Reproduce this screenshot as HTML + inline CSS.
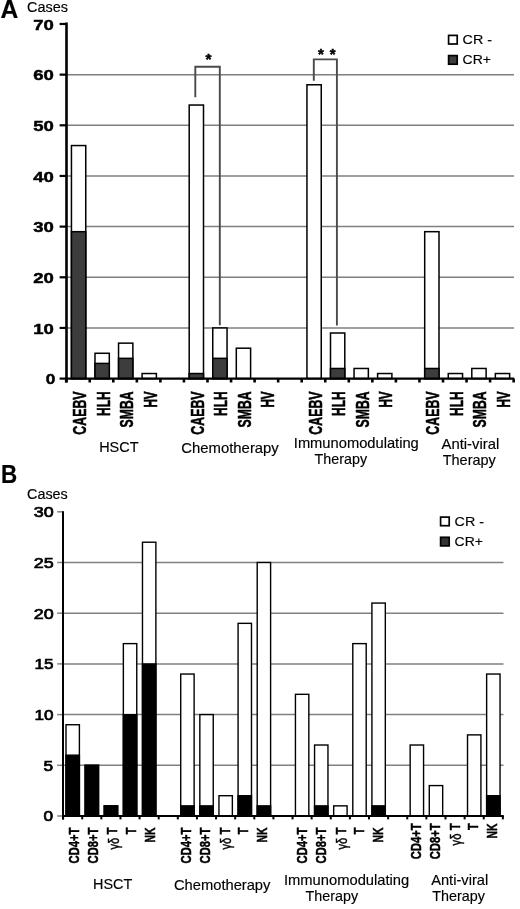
<!DOCTYPE html>
<html><head><meta charset="utf-8"><title>Figure</title>
<style>
html,body{margin:0;padding:0;background:#fff;}
body{width:520px;height:909px;overflow:hidden;}
svg{display:block;font-family:'Liberation Sans', Arial, sans-serif;}
</style></head>
<body>
<svg width="520" height="909" viewBox="0 0 520 909" fill="#000">
<rect width="520" height="909" fill="#fff"/>
<line x1="66.50" y1="327.94" x2="514.00" y2="327.94" stroke="#7f7f7f" stroke-width="1.5"/>
<line x1="66.50" y1="277.28" x2="514.00" y2="277.28" stroke="#7f7f7f" stroke-width="1.5"/>
<line x1="66.50" y1="226.62" x2="514.00" y2="226.62" stroke="#7f7f7f" stroke-width="1.5"/>
<line x1="66.50" y1="175.96" x2="514.00" y2="175.96" stroke="#7f7f7f" stroke-width="1.5"/>
<line x1="66.50" y1="125.30" x2="514.00" y2="125.30" stroke="#7f7f7f" stroke-width="1.5"/>
<line x1="66.50" y1="74.64" x2="514.00" y2="74.64" stroke="#7f7f7f" stroke-width="1.5"/>
<rect x="71.45" y="145.56" width="14.30" height="233.04" fill="#fff" stroke="#000" stroke-width="1.5"/>
<rect x="71.45" y="231.69" width="14.30" height="146.91" fill="#3d3d3d" stroke="#000" stroke-width="1.5"/>
<rect x="95.00" y="353.27" width="14.30" height="25.33" fill="#fff" stroke="#000" stroke-width="1.5"/>
<rect x="95.00" y="363.40" width="14.30" height="15.20" fill="#3d3d3d" stroke="#000" stroke-width="1.5"/>
<rect x="118.55" y="343.14" width="14.30" height="35.46" fill="#fff" stroke="#000" stroke-width="1.5"/>
<rect x="118.55" y="358.34" width="14.30" height="20.26" fill="#3d3d3d" stroke="#000" stroke-width="1.5"/>
<rect x="142.10" y="373.53" width="14.30" height="5.07" fill="#fff" stroke="#000" stroke-width="1.5"/>
<rect x="189.20" y="105.04" width="14.30" height="273.56" fill="#fff" stroke="#000" stroke-width="1.5"/>
<rect x="189.20" y="373.53" width="14.30" height="5.07" fill="#3d3d3d" stroke="#000" stroke-width="1.5"/>
<rect x="212.75" y="327.94" width="14.30" height="50.66" fill="#fff" stroke="#000" stroke-width="1.5"/>
<rect x="212.75" y="358.34" width="14.30" height="20.26" fill="#3d3d3d" stroke="#000" stroke-width="1.5"/>
<rect x="236.30" y="348.20" width="14.30" height="30.40" fill="#fff" stroke="#000" stroke-width="1.5"/>
<rect x="306.95" y="84.77" width="14.30" height="293.83" fill="#fff" stroke="#000" stroke-width="1.5"/>
<rect x="330.50" y="333.01" width="14.30" height="45.59" fill="#fff" stroke="#000" stroke-width="1.5"/>
<rect x="330.50" y="368.47" width="14.30" height="10.13" fill="#3d3d3d" stroke="#000" stroke-width="1.5"/>
<rect x="354.05" y="368.47" width="14.30" height="10.13" fill="#fff" stroke="#000" stroke-width="1.5"/>
<rect x="377.60" y="373.53" width="14.30" height="5.07" fill="#fff" stroke="#000" stroke-width="1.5"/>
<rect x="424.70" y="231.69" width="14.30" height="146.91" fill="#fff" stroke="#000" stroke-width="1.5"/>
<rect x="424.70" y="368.47" width="14.30" height="10.13" fill="#3d3d3d" stroke="#000" stroke-width="1.5"/>
<rect x="448.25" y="373.53" width="14.30" height="5.07" fill="#fff" stroke="#000" stroke-width="1.5"/>
<rect x="471.80" y="368.47" width="14.30" height="10.13" fill="#fff" stroke="#000" stroke-width="1.5"/>
<rect x="495.35" y="373.53" width="14.30" height="5.07" fill="#fff" stroke="#000" stroke-width="1.5"/>
<polyline points="195.3,97.3 195.3,66.8 219.8,66.8 219.8,325.2" fill="none" stroke="#4a4a4a" stroke-width="1.9"/>
<polyline points="313.8,80.8 313.8,59.4 336.9,59.4 336.9,325.4" fill="none" stroke="#4a4a4a" stroke-width="1.9"/>
<text x="208.50" y="64.00" font-size="15.5" font-weight="bold" text-anchor="middle" stroke="#000" stroke-width="0.5">*</text>
<text x="320.90" y="58.60" font-size="15" font-weight="bold" text-anchor="middle" stroke="#000" stroke-width="0.5">*</text>
<text x="332.70" y="58.60" font-size="15" font-weight="bold" text-anchor="middle" stroke="#000" stroke-width="0.5">*</text>
<line x1="66.50" y1="22.50" x2="66.50" y2="382.50" stroke="#000" stroke-width="2.6"/>
<line x1="65.20" y1="378.60" x2="514.20" y2="378.60" stroke="#000" stroke-width="2.2"/>
<line x1="66.20" y1="378.60" x2="66.20" y2="382.50" stroke="#000" stroke-width="2.6"/>
<line x1="89.75" y1="378.60" x2="89.75" y2="382.50" stroke="#000" stroke-width="2.6"/>
<line x1="113.30" y1="378.60" x2="113.30" y2="382.50" stroke="#000" stroke-width="2.6"/>
<line x1="136.85" y1="378.60" x2="136.85" y2="382.50" stroke="#000" stroke-width="2.6"/>
<line x1="160.40" y1="378.60" x2="160.40" y2="382.50" stroke="#000" stroke-width="2.6"/>
<line x1="183.95" y1="378.60" x2="183.95" y2="382.50" stroke="#000" stroke-width="2.6"/>
<line x1="207.50" y1="378.60" x2="207.50" y2="382.50" stroke="#000" stroke-width="2.6"/>
<line x1="231.05" y1="378.60" x2="231.05" y2="382.50" stroke="#000" stroke-width="2.6"/>
<line x1="254.60" y1="378.60" x2="254.60" y2="382.50" stroke="#000" stroke-width="2.6"/>
<line x1="278.15" y1="378.60" x2="278.15" y2="382.50" stroke="#000" stroke-width="2.6"/>
<line x1="301.70" y1="378.60" x2="301.70" y2="382.50" stroke="#000" stroke-width="2.6"/>
<line x1="325.25" y1="378.60" x2="325.25" y2="382.50" stroke="#000" stroke-width="2.6"/>
<line x1="348.80" y1="378.60" x2="348.80" y2="382.50" stroke="#000" stroke-width="2.6"/>
<line x1="372.35" y1="378.60" x2="372.35" y2="382.50" stroke="#000" stroke-width="2.6"/>
<line x1="395.90" y1="378.60" x2="395.90" y2="382.50" stroke="#000" stroke-width="2.6"/>
<line x1="419.45" y1="378.60" x2="419.45" y2="382.50" stroke="#000" stroke-width="2.6"/>
<line x1="443.00" y1="378.60" x2="443.00" y2="382.50" stroke="#000" stroke-width="2.6"/>
<line x1="466.55" y1="378.60" x2="466.55" y2="382.50" stroke="#000" stroke-width="2.6"/>
<line x1="490.10" y1="378.60" x2="490.10" y2="382.50" stroke="#000" stroke-width="2.6"/>
<line x1="513.65" y1="378.60" x2="513.65" y2="382.50" stroke="#000" stroke-width="2.6"/>
<line x1="59.60" y1="378.60" x2="66.50" y2="378.60" stroke="#000" stroke-width="2.2"/>
<line x1="59.60" y1="327.94" x2="66.50" y2="327.94" stroke="#000" stroke-width="2.2"/>
<line x1="59.60" y1="277.28" x2="66.50" y2="277.28" stroke="#000" stroke-width="2.2"/>
<line x1="59.60" y1="226.62" x2="66.50" y2="226.62" stroke="#000" stroke-width="2.2"/>
<line x1="59.60" y1="175.96" x2="66.50" y2="175.96" stroke="#000" stroke-width="2.2"/>
<line x1="59.60" y1="125.30" x2="66.50" y2="125.30" stroke="#000" stroke-width="2.2"/>
<line x1="59.60" y1="74.64" x2="66.50" y2="74.64" stroke="#000" stroke-width="2.2"/>
<line x1="59.60" y1="23.98" x2="66.50" y2="23.98" stroke="#000" stroke-width="2.2"/>
<text x="55.40" y="384.40" font-size="13.8" font-weight="bold" text-anchor="end" textLength="9.6" lengthAdjust="spacingAndGlyphs" stroke="#000" stroke-width="0.45">0</text>
<text x="53.90" y="333.74" font-size="13.8" font-weight="bold" text-anchor="end" textLength="20.6" lengthAdjust="spacingAndGlyphs" stroke="#000" stroke-width="0.45">10</text>
<text x="53.90" y="283.08" font-size="13.8" font-weight="bold" text-anchor="end" textLength="20.6" lengthAdjust="spacingAndGlyphs" stroke="#000" stroke-width="0.45">20</text>
<text x="53.90" y="232.42" font-size="13.8" font-weight="bold" text-anchor="end" textLength="20.6" lengthAdjust="spacingAndGlyphs" stroke="#000" stroke-width="0.45">30</text>
<text x="53.90" y="181.76" font-size="13.8" font-weight="bold" text-anchor="end" textLength="20.6" lengthAdjust="spacingAndGlyphs" stroke="#000" stroke-width="0.45">40</text>
<text x="53.90" y="131.10" font-size="13.8" font-weight="bold" text-anchor="end" textLength="20.6" lengthAdjust="spacingAndGlyphs" stroke="#000" stroke-width="0.45">50</text>
<text x="53.90" y="80.44" font-size="13.8" font-weight="bold" text-anchor="end" textLength="20.6" lengthAdjust="spacingAndGlyphs" stroke="#000" stroke-width="0.45">60</text>
<text x="53.90" y="29.78" font-size="13.8" font-weight="bold" text-anchor="end" textLength="20.6" lengthAdjust="spacingAndGlyphs" stroke="#000" stroke-width="0.45">70</text>
<text x="0.40" y="17.80" font-size="25.5" font-weight="bold" text-anchor="start" textLength="17.8" lengthAdjust="spacingAndGlyphs" stroke="#000" stroke-width="0.2">A</text>
<text x="27.00" y="11.50" font-size="13.8" font-weight="normal" text-anchor="start" textLength="40.9" lengthAdjust="spacingAndGlyphs" stroke="#000" stroke-width="0.15">Cases</text>
<rect x="448.60" y="35.40" width="8.60" height="8.60" fill="#fff" stroke="#000" stroke-width="1.7"/>
<rect x="448.60" y="55.60" width="8.60" height="8.60" fill="#3d3d3d" stroke="#000" stroke-width="1.7"/>
<text x="462.60" y="44.10" font-size="13.0" font-weight="normal" text-anchor="start" textLength="29.4" lengthAdjust="spacingAndGlyphs" stroke="#000" stroke-width="0.15">CR -</text>
<text x="462.60" y="63.80" font-size="13.0" font-weight="normal" text-anchor="start" textLength="28.3" lengthAdjust="spacingAndGlyphs" stroke="#000" stroke-width="0.15">CR+</text>
<text transform="translate(86.00,391.40) rotate(-90)" x="0" y="0" font-size="18.5" font-weight="bold" text-anchor="end" textLength="43.3" lengthAdjust="spacingAndGlyphs" stroke="#000" stroke-width="0.5">CAEBV</text>
<text transform="translate(109.55,391.40) rotate(-90)" x="0" y="0" font-size="18.5" font-weight="bold" text-anchor="end" textLength="24.5" lengthAdjust="spacingAndGlyphs" stroke="#000" stroke-width="0.5">HLH</text>
<text transform="translate(133.10,391.40) rotate(-90)" x="0" y="0" font-size="18.5" font-weight="bold" text-anchor="end" textLength="36.0" lengthAdjust="spacingAndGlyphs" stroke="#000" stroke-width="0.5">SMBA</text>
<text transform="translate(156.65,391.40) rotate(-90)" x="0" y="0" font-size="18.5" font-weight="bold" text-anchor="end" textLength="16.2" lengthAdjust="spacingAndGlyphs" stroke="#000" stroke-width="0.5">HV</text>
<text transform="translate(203.75,391.40) rotate(-90)" x="0" y="0" font-size="18.5" font-weight="bold" text-anchor="end" textLength="43.3" lengthAdjust="spacingAndGlyphs" stroke="#000" stroke-width="0.5">CAEBV</text>
<text transform="translate(227.30,391.40) rotate(-90)" x="0" y="0" font-size="18.5" font-weight="bold" text-anchor="end" textLength="24.5" lengthAdjust="spacingAndGlyphs" stroke="#000" stroke-width="0.5">HLH</text>
<text transform="translate(250.85,391.40) rotate(-90)" x="0" y="0" font-size="18.5" font-weight="bold" text-anchor="end" textLength="36.0" lengthAdjust="spacingAndGlyphs" stroke="#000" stroke-width="0.5">SMBA</text>
<text transform="translate(274.40,391.40) rotate(-90)" x="0" y="0" font-size="18.5" font-weight="bold" text-anchor="end" textLength="16.2" lengthAdjust="spacingAndGlyphs" stroke="#000" stroke-width="0.5">HV</text>
<text transform="translate(321.50,391.40) rotate(-90)" x="0" y="0" font-size="18.5" font-weight="bold" text-anchor="end" textLength="43.3" lengthAdjust="spacingAndGlyphs" stroke="#000" stroke-width="0.5">CAEBV</text>
<text transform="translate(345.05,391.40) rotate(-90)" x="0" y="0" font-size="18.5" font-weight="bold" text-anchor="end" textLength="24.5" lengthAdjust="spacingAndGlyphs" stroke="#000" stroke-width="0.5">HLH</text>
<text transform="translate(368.60,391.40) rotate(-90)" x="0" y="0" font-size="18.5" font-weight="bold" text-anchor="end" textLength="36.0" lengthAdjust="spacingAndGlyphs" stroke="#000" stroke-width="0.5">SMBA</text>
<text transform="translate(392.15,391.40) rotate(-90)" x="0" y="0" font-size="18.5" font-weight="bold" text-anchor="end" textLength="16.2" lengthAdjust="spacingAndGlyphs" stroke="#000" stroke-width="0.5">HV</text>
<text transform="translate(439.25,391.40) rotate(-90)" x="0" y="0" font-size="18.5" font-weight="bold" text-anchor="end" textLength="43.3" lengthAdjust="spacingAndGlyphs" stroke="#000" stroke-width="0.5">CAEBV</text>
<text transform="translate(462.80,391.40) rotate(-90)" x="0" y="0" font-size="18.5" font-weight="bold" text-anchor="end" textLength="24.5" lengthAdjust="spacingAndGlyphs" stroke="#000" stroke-width="0.5">HLH</text>
<text transform="translate(486.35,391.40) rotate(-90)" x="0" y="0" font-size="18.5" font-weight="bold" text-anchor="end" textLength="36.0" lengthAdjust="spacingAndGlyphs" stroke="#000" stroke-width="0.5">SMBA</text>
<text transform="translate(509.90,391.40) rotate(-90)" x="0" y="0" font-size="18.5" font-weight="bold" text-anchor="end" textLength="16.2" lengthAdjust="spacingAndGlyphs" stroke="#000" stroke-width="0.5">HV</text>
<text x="99.20" y="452.40" font-size="14.2" font-weight="normal" text-anchor="start" textLength="39.3" lengthAdjust="spacingAndGlyphs" stroke="#000" stroke-width="0.15">HSCT</text>
<text x="181.30" y="453.00" font-size="14.2" font-weight="normal" text-anchor="start" textLength="97.5" lengthAdjust="spacingAndGlyphs" stroke="#000" stroke-width="0.15">Chemotherapy</text>
<text x="293.80" y="448.30" font-size="14.2" font-weight="normal" text-anchor="start" textLength="125.0" lengthAdjust="spacingAndGlyphs" stroke="#000" stroke-width="0.15">Immunomodulating</text>
<text x="314.60" y="464.40" font-size="14.2" font-weight="normal" text-anchor="start" textLength="52.5" lengthAdjust="spacingAndGlyphs" stroke="#000" stroke-width="0.15">Therapy</text>
<text x="441.50" y="449.20" font-size="14.2" font-weight="normal" text-anchor="start" textLength="57.7" lengthAdjust="spacingAndGlyphs" stroke="#000" stroke-width="0.15">Anti-viral</text>
<text x="442.70" y="464.80" font-size="14.2" font-weight="normal" text-anchor="start" textLength="53.1" lengthAdjust="spacingAndGlyphs" stroke="#000" stroke-width="0.15">Therapy</text>
<line x1="63.00" y1="765.30" x2="503.50" y2="765.30" stroke="#808080" stroke-width="1.5"/>
<line x1="63.00" y1="714.60" x2="503.50" y2="714.60" stroke="#808080" stroke-width="1.5"/>
<line x1="63.00" y1="663.90" x2="503.50" y2="663.90" stroke="#808080" stroke-width="1.5"/>
<line x1="63.00" y1="613.20" x2="503.50" y2="613.20" stroke="#808080" stroke-width="1.5"/>
<line x1="63.00" y1="562.50" x2="503.50" y2="562.50" stroke="#808080" stroke-width="1.5"/>
<line x1="57.20" y1="816.00" x2="63.00" y2="816.00" stroke="#808080" stroke-width="1.5"/>
<line x1="57.20" y1="765.30" x2="63.00" y2="765.30" stroke="#808080" stroke-width="1.5"/>
<line x1="57.20" y1="714.60" x2="63.00" y2="714.60" stroke="#808080" stroke-width="1.5"/>
<line x1="57.20" y1="663.90" x2="63.00" y2="663.90" stroke="#808080" stroke-width="1.5"/>
<line x1="57.20" y1="613.20" x2="63.00" y2="613.20" stroke="#808080" stroke-width="1.5"/>
<line x1="57.20" y1="562.50" x2="63.00" y2="562.50" stroke="#808080" stroke-width="1.5"/>
<line x1="57.20" y1="511.80" x2="63.00" y2="511.80" stroke="#808080" stroke-width="1.5"/>
<rect x="66.00" y="724.74" width="13.40" height="91.26" fill="#fff" stroke="#000" stroke-width="1.4"/>
<rect x="66.00" y="755.16" width="13.40" height="60.84" fill="#000" stroke="#000" stroke-width="1.4"/>
<rect x="85.12" y="765.30" width="13.40" height="50.70" fill="#fff" stroke="#000" stroke-width="1.4"/>
<rect x="85.12" y="765.30" width="13.40" height="50.70" fill="#000" stroke="#000" stroke-width="1.4"/>
<rect x="104.24" y="805.86" width="13.40" height="10.14" fill="#fff" stroke="#000" stroke-width="1.4"/>
<rect x="104.24" y="805.86" width="13.40" height="10.14" fill="#000" stroke="#000" stroke-width="1.4"/>
<rect x="123.36" y="643.62" width="13.40" height="172.38" fill="#fff" stroke="#000" stroke-width="1.4"/>
<rect x="123.36" y="714.60" width="13.40" height="101.40" fill="#000" stroke="#000" stroke-width="1.4"/>
<rect x="142.48" y="542.22" width="13.40" height="273.78" fill="#fff" stroke="#000" stroke-width="1.4"/>
<rect x="142.48" y="663.90" width="13.40" height="152.10" fill="#000" stroke="#000" stroke-width="1.4"/>
<rect x="180.72" y="674.04" width="13.40" height="141.96" fill="#fff" stroke="#000" stroke-width="1.4"/>
<rect x="180.72" y="805.86" width="13.40" height="10.14" fill="#000" stroke="#000" stroke-width="1.4"/>
<rect x="199.84" y="714.60" width="13.40" height="101.40" fill="#fff" stroke="#000" stroke-width="1.4"/>
<rect x="199.84" y="805.86" width="13.40" height="10.14" fill="#000" stroke="#000" stroke-width="1.4"/>
<rect x="218.96" y="795.72" width="13.40" height="20.28" fill="#fff" stroke="#000" stroke-width="1.4"/>
<rect x="238.08" y="623.34" width="13.40" height="192.66" fill="#fff" stroke="#000" stroke-width="1.4"/>
<rect x="238.08" y="795.72" width="13.40" height="20.28" fill="#000" stroke="#000" stroke-width="1.4"/>
<rect x="257.20" y="562.50" width="13.40" height="253.50" fill="#fff" stroke="#000" stroke-width="1.4"/>
<rect x="257.20" y="805.86" width="13.40" height="10.14" fill="#000" stroke="#000" stroke-width="1.4"/>
<rect x="295.44" y="694.32" width="13.40" height="121.68" fill="#fff" stroke="#000" stroke-width="1.4"/>
<rect x="314.56" y="745.02" width="13.40" height="70.98" fill="#fff" stroke="#000" stroke-width="1.4"/>
<rect x="314.56" y="805.86" width="13.40" height="10.14" fill="#000" stroke="#000" stroke-width="1.4"/>
<rect x="333.68" y="805.86" width="13.40" height="10.14" fill="#fff" stroke="#000" stroke-width="1.4"/>
<rect x="352.80" y="643.62" width="13.40" height="172.38" fill="#fff" stroke="#000" stroke-width="1.4"/>
<rect x="371.92" y="603.06" width="13.40" height="212.94" fill="#fff" stroke="#000" stroke-width="1.4"/>
<rect x="371.92" y="805.86" width="13.40" height="10.14" fill="#000" stroke="#000" stroke-width="1.4"/>
<rect x="410.16" y="745.02" width="13.40" height="70.98" fill="#fff" stroke="#000" stroke-width="1.4"/>
<rect x="429.28" y="785.58" width="13.40" height="30.42" fill="#fff" stroke="#000" stroke-width="1.4"/>
<rect x="467.52" y="734.88" width="13.40" height="81.12" fill="#fff" stroke="#000" stroke-width="1.4"/>
<rect x="486.64" y="674.04" width="13.40" height="141.96" fill="#fff" stroke="#000" stroke-width="1.4"/>
<rect x="486.64" y="795.72" width="13.40" height="20.28" fill="#000" stroke="#000" stroke-width="1.4"/>
<line x1="63.00" y1="511.30" x2="63.00" y2="819.40" stroke="#000" stroke-width="2.0"/>
<line x1="62.00" y1="816.00" x2="503.80" y2="816.00" stroke="#000" stroke-width="2.0"/>
<line x1="63.10" y1="816.00" x2="63.10" y2="819.40" stroke="#000" stroke-width="2.0"/>
<line x1="82.22" y1="816.00" x2="82.22" y2="819.40" stroke="#000" stroke-width="2.0"/>
<line x1="101.34" y1="816.00" x2="101.34" y2="819.40" stroke="#000" stroke-width="2.0"/>
<line x1="120.46" y1="816.00" x2="120.46" y2="819.40" stroke="#000" stroke-width="2.0"/>
<line x1="139.58" y1="816.00" x2="139.58" y2="819.40" stroke="#000" stroke-width="2.0"/>
<line x1="158.70" y1="816.00" x2="158.70" y2="819.40" stroke="#000" stroke-width="2.0"/>
<line x1="177.82" y1="816.00" x2="177.82" y2="819.40" stroke="#000" stroke-width="2.0"/>
<line x1="196.94" y1="816.00" x2="196.94" y2="819.40" stroke="#000" stroke-width="2.0"/>
<line x1="216.06" y1="816.00" x2="216.06" y2="819.40" stroke="#000" stroke-width="2.0"/>
<line x1="235.18" y1="816.00" x2="235.18" y2="819.40" stroke="#000" stroke-width="2.0"/>
<line x1="254.30" y1="816.00" x2="254.30" y2="819.40" stroke="#000" stroke-width="2.0"/>
<line x1="273.42" y1="816.00" x2="273.42" y2="819.40" stroke="#000" stroke-width="2.0"/>
<line x1="292.54" y1="816.00" x2="292.54" y2="819.40" stroke="#000" stroke-width="2.0"/>
<line x1="311.66" y1="816.00" x2="311.66" y2="819.40" stroke="#000" stroke-width="2.0"/>
<line x1="330.78" y1="816.00" x2="330.78" y2="819.40" stroke="#000" stroke-width="2.0"/>
<line x1="349.90" y1="816.00" x2="349.90" y2="819.40" stroke="#000" stroke-width="2.0"/>
<line x1="369.02" y1="816.00" x2="369.02" y2="819.40" stroke="#000" stroke-width="2.0"/>
<line x1="388.14" y1="816.00" x2="388.14" y2="819.40" stroke="#000" stroke-width="2.0"/>
<line x1="407.26" y1="816.00" x2="407.26" y2="819.40" stroke="#000" stroke-width="2.0"/>
<line x1="426.38" y1="816.00" x2="426.38" y2="819.40" stroke="#000" stroke-width="2.0"/>
<line x1="445.50" y1="816.00" x2="445.50" y2="819.40" stroke="#000" stroke-width="2.0"/>
<line x1="464.62" y1="816.00" x2="464.62" y2="819.40" stroke="#000" stroke-width="2.0"/>
<line x1="483.74" y1="816.00" x2="483.74" y2="819.40" stroke="#000" stroke-width="2.0"/>
<line x1="502.86" y1="816.00" x2="502.86" y2="819.40" stroke="#000" stroke-width="2.0"/>
<text x="53.20" y="821.40" font-size="14.5" font-weight="normal" text-anchor="end" textLength="9.6" lengthAdjust="spacingAndGlyphs" stroke="#000" stroke-width="0.7">0</text>
<text x="53.20" y="770.70" font-size="14.5" font-weight="normal" text-anchor="end" textLength="9.6" lengthAdjust="spacingAndGlyphs" stroke="#000" stroke-width="0.7">5</text>
<text x="53.60" y="720.00" font-size="14.5" font-weight="normal" text-anchor="end" textLength="19.0" lengthAdjust="spacingAndGlyphs" stroke="#000" stroke-width="0.7">10</text>
<text x="53.60" y="669.30" font-size="14.5" font-weight="normal" text-anchor="end" textLength="19.0" lengthAdjust="spacingAndGlyphs" stroke="#000" stroke-width="0.7">15</text>
<text x="53.60" y="618.60" font-size="14.5" font-weight="normal" text-anchor="end" textLength="19.9" lengthAdjust="spacingAndGlyphs" stroke="#000" stroke-width="0.7">20</text>
<text x="53.60" y="567.90" font-size="14.5" font-weight="normal" text-anchor="end" textLength="19.9" lengthAdjust="spacingAndGlyphs" stroke="#000" stroke-width="0.7">25</text>
<text x="53.60" y="517.20" font-size="14.5" font-weight="normal" text-anchor="end" textLength="19.9" lengthAdjust="spacingAndGlyphs" stroke="#000" stroke-width="0.7">30</text>
<text x="1.00" y="482.80" font-size="25.0" font-weight="bold" text-anchor="start" textLength="16.2" lengthAdjust="spacingAndGlyphs" stroke="#000" stroke-width="0.2">B</text>
<text x="27.00" y="498.60" font-size="13.8" font-weight="normal" text-anchor="start" textLength="40.8" lengthAdjust="spacingAndGlyphs" stroke="#000" stroke-width="0.15">Cases</text>
<rect x="440.60" y="517.10" width="8.60" height="8.60" fill="#fff" stroke="#000" stroke-width="1.7"/>
<rect x="440.60" y="537.30" width="8.60" height="8.60" fill="#333" stroke="#000" stroke-width="1.7"/>
<text x="454.60" y="525.60" font-size="13.0" font-weight="normal" text-anchor="start" textLength="29.4" lengthAdjust="spacingAndGlyphs" stroke="#000" stroke-width="0.15">CR -</text>
<text x="454.60" y="545.50" font-size="13.0" font-weight="normal" text-anchor="start" textLength="28.3" lengthAdjust="spacingAndGlyphs" stroke="#000" stroke-width="0.15">CR+</text>
<text transform="translate(78.50,827.60) rotate(-90)" x="0" y="0" font-size="15.5" font-weight="bold" text-anchor="end" textLength="35.8" lengthAdjust="spacingAndGlyphs" stroke="#000" stroke-width="0.5">CD4+T</text>
<text transform="translate(97.62,827.60) rotate(-90)" x="0" y="0" font-size="15.5" font-weight="bold" text-anchor="end" textLength="35.8" lengthAdjust="spacingAndGlyphs" stroke="#000" stroke-width="0.5">CD8+T</text>
<text transform="translate(117.44,827.6) rotate(-90)" font-size="15.5" font-weight="bold" text-anchor="end" textLength="22.0" lengthAdjust="spacingAndGlyphs" stroke="#000" stroke-width="0.5"><tspan font-weight="normal" stroke-width="0.45" dy="1.2">γδ</tspan><tspan dy="-1.2"> T</tspan></text>
<text transform="translate(135.86,827.60) rotate(-90)" x="0" y="0" font-size="15.5" font-weight="bold" text-anchor="end" textLength="6.6" lengthAdjust="spacingAndGlyphs" stroke="#000" stroke-width="0.5">T</text>
<text transform="translate(154.98,827.60) rotate(-90)" x="0" y="0" font-size="15.5" font-weight="bold" text-anchor="end" textLength="15.0" lengthAdjust="spacingAndGlyphs" stroke="#000" stroke-width="0.5">NK</text>
<text transform="translate(190.82,827.60) rotate(-90)" x="0" y="0" font-size="15.5" font-weight="bold" text-anchor="end" textLength="35.8" lengthAdjust="spacingAndGlyphs" stroke="#000" stroke-width="0.5">CD4+T</text>
<text transform="translate(209.94,827.60) rotate(-90)" x="0" y="0" font-size="15.5" font-weight="bold" text-anchor="end" textLength="35.8" lengthAdjust="spacingAndGlyphs" stroke="#000" stroke-width="0.5">CD8+T</text>
<text transform="translate(229.76,827.6) rotate(-90)" font-size="15.5" font-weight="bold" text-anchor="end" textLength="22.0" lengthAdjust="spacingAndGlyphs" stroke="#000" stroke-width="0.5"><tspan font-weight="normal" stroke-width="0.45" dy="1.2">γδ</tspan><tspan dy="-1.2"> T</tspan></text>
<text transform="translate(248.18,827.60) rotate(-90)" x="0" y="0" font-size="15.5" font-weight="bold" text-anchor="end" textLength="6.6" lengthAdjust="spacingAndGlyphs" stroke="#000" stroke-width="0.5">T</text>
<text transform="translate(267.30,827.60) rotate(-90)" x="0" y="0" font-size="15.5" font-weight="bold" text-anchor="end" textLength="15.0" lengthAdjust="spacingAndGlyphs" stroke="#000" stroke-width="0.5">NK</text>
<text transform="translate(306.64,827.60) rotate(-90)" x="0" y="0" font-size="15.5" font-weight="bold" text-anchor="end" textLength="35.8" lengthAdjust="spacingAndGlyphs" stroke="#000" stroke-width="0.5">CD4+T</text>
<text transform="translate(325.76,827.60) rotate(-90)" x="0" y="0" font-size="15.5" font-weight="bold" text-anchor="end" textLength="35.8" lengthAdjust="spacingAndGlyphs" stroke="#000" stroke-width="0.5">CD8+T</text>
<text transform="translate(345.58,827.6) rotate(-90)" font-size="15.5" font-weight="bold" text-anchor="end" textLength="22.0" lengthAdjust="spacingAndGlyphs" stroke="#000" stroke-width="0.5"><tspan font-weight="normal" stroke-width="0.45" dy="1.2">γδ</tspan><tspan dy="-1.2"> T</tspan></text>
<text transform="translate(364.00,827.60) rotate(-90)" x="0" y="0" font-size="15.5" font-weight="bold" text-anchor="end" textLength="6.6" lengthAdjust="spacingAndGlyphs" stroke="#000" stroke-width="0.5">T</text>
<text transform="translate(383.12,827.60) rotate(-90)" x="0" y="0" font-size="15.5" font-weight="bold" text-anchor="end" textLength="15.0" lengthAdjust="spacingAndGlyphs" stroke="#000" stroke-width="0.5">NK</text>
<text transform="translate(420.76,823.40) rotate(-90)" x="0" y="0" font-size="15.5" font-weight="bold" text-anchor="end" textLength="35.8" lengthAdjust="spacingAndGlyphs" stroke="#000" stroke-width="0.5">CD4+T</text>
<text transform="translate(439.88,823.40) rotate(-90)" x="0" y="0" font-size="15.5" font-weight="bold" text-anchor="end" textLength="35.8" lengthAdjust="spacingAndGlyphs" stroke="#000" stroke-width="0.5">CD8+T</text>
<text transform="translate(459.70,823.4) rotate(-90)" font-size="15.5" font-weight="bold" text-anchor="end" textLength="22.0" lengthAdjust="spacingAndGlyphs" stroke="#000" stroke-width="0.5"><tspan font-weight="normal" stroke-width="0.45" dy="1.2">γδ</tspan><tspan dy="-1.2"> T</tspan></text>
<text transform="translate(478.12,823.40) rotate(-90)" x="0" y="0" font-size="15.5" font-weight="bold" text-anchor="end" textLength="6.6" lengthAdjust="spacingAndGlyphs" stroke="#000" stroke-width="0.5">T</text>
<text transform="translate(497.24,823.40) rotate(-90)" x="0" y="0" font-size="15.5" font-weight="bold" text-anchor="end" textLength="15.0" lengthAdjust="spacingAndGlyphs" stroke="#000" stroke-width="0.5">NK</text>
<text x="93.10" y="888.80" font-size="14.2" font-weight="normal" text-anchor="start" textLength="39.2" lengthAdjust="spacingAndGlyphs" stroke="#000" stroke-width="0.15">HSCT</text>
<text x="174.00" y="890.20" font-size="14.2" font-weight="normal" text-anchor="start" textLength="96.4" lengthAdjust="spacingAndGlyphs" stroke="#000" stroke-width="0.15">Chemotherapy</text>
<text x="284.00" y="884.50" font-size="14.2" font-weight="normal" text-anchor="start" textLength="125.2" lengthAdjust="spacingAndGlyphs" stroke="#000" stroke-width="0.15">Immunomodulating</text>
<text x="305.60" y="901.20" font-size="14.2" font-weight="normal" text-anchor="start" textLength="52.5" lengthAdjust="spacingAndGlyphs" stroke="#000" stroke-width="0.15">Therapy</text>
<text x="431.20" y="885.40" font-size="14.2" font-weight="normal" text-anchor="start" textLength="57.0" lengthAdjust="spacingAndGlyphs" stroke="#000" stroke-width="0.15">Anti-viral</text>
<text x="432.30" y="900.90" font-size="14.2" font-weight="normal" text-anchor="start" textLength="52.6" lengthAdjust="spacingAndGlyphs" stroke="#000" stroke-width="0.15">Therapy</text>
</svg>
</body></html>
